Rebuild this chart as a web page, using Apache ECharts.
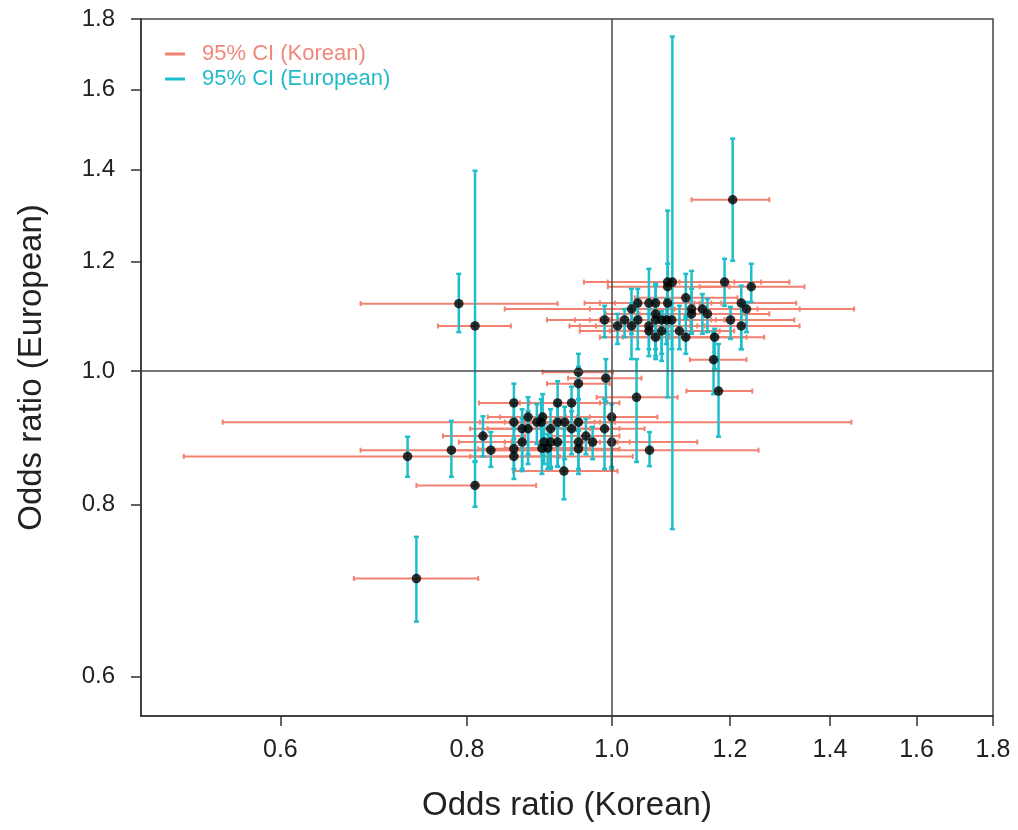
<!DOCTYPE html>
<html>
<head>
<meta charset="utf-8">
<script src="https://cdn.jsdelivr.net/npm/echarts@6/dist/echarts.min.js"></script>
<style>html,body{margin:0;padding:0;background:#fff}#chart{width:1018px;height:830px}</style>
</head>
<body>
<div id="chart"></div>
<script>
// Odds ratios (Korean) with 95% CI
const orKorean = [
  .950,.991,.950,1.039,1.179,.860,.920,.940,1.000,.879,.899,.860,.891,.897,.920,.930,.950,.871,.879,.910,.940,.989,.820,.961,.871,.901,.910,.920,.950,.971,1.000,.781,.830,.860,.898,.906,.950,1.060,.860,.730,.929,.810,.740,
  .790,.810,
  .989,1.009,1.020,1.031,1.031,1.041,1.041,1.059,1.070,1.059,1.059,1.070,1.070,1.080,1.088,1.097,1.080,1.070,1.090,1.090,1.098,1.090,1.110,1.121,1.131,1.131,1.121,1.150,1.159,1.172,1.190,1.201,1.221,1.221,1.231,1.240,1.170,1.205
];
const loKorean = [
  .899,.935,.905,.977,1.122,.815,.868,.881,.932,.826,.842,.816,.549,.848,.875,.881,.899,.804,.826,.861,.881,.930,.771,.912,.790,.848,.857,.868,.895,.916,.875,.679,.785,.814,.848,.856,.895,.897,.804,.517,.859,.740,.672,
  .679,.765,
  .905,.937,.945,.952,.967,.959,.967,.982,.982,.976,.952,.991,.982,.997,.997,1.012,.997,.982,1.005,.958,.994,.994,1.020,1.036,.848,1.044,1.017,1.060,1.068,1.093,1.110,1.110,1.128,1.141,1.145,1.145,1.128,1.131
];
const hiKorean = [
  1.002,1.047,.997,1.107,1.242,.992,.982,1.012,1.073,.948,.967,.912,1.447,.952,.974,.982,1.005,.945,.937,.967,1.012,1.052,.875,1.012,.967,.956,.974,.982,1.009,1.028,1.141,.898,.879,.917,.956,.967,1.012,1.254,.923,1.033,1.009,.890,.814,
  .920,.856,
  1.085,1.093,1.110,1.128,1.102,1.136,1.128,1.145,1.166,1.154,1.181,1.159,1.166,1.174,1.190,1.190,1.172,1.166,1.184,1.259,1.208,1.199,1.208,1.214,1.453,1.227,1.231,1.252,1.275,1.265,1.315,1.325,1.329,1.336,1.336,1.346,1.231,1.275
];
// Odds ratios (European) with 95% CI
const orEuropean = [
  .998,.988,.979,.957,.967,.948,.948,.948,.926,.926,.926,.918,.918,.918,.918,.918,.918,.908,.908,.908,.908,.908,.897,.897,.888,.888,.888,.888,.888,.888,.888,.876,.876,.878,.879,.879,.878,.876,.867,.867,.846,.826,.707,
  1.119,1.078,
  1.089,1.078,1.089,1.078,1.109,1.120,1.089,1.120,1.120,1.078,1.069,1.100,1.089,1.089,1.089,1.089,1.069,1.058,1.120,1.160,1.160,1.151,1.069,1.130,1.109,1.100,1.058,1.109,1.100,1.058,1.160,1.089,1.120,1.078,1.109,1.151,1.019,1.331
];
const loEuropean = [
  .954,.950,.923,.859,.896,.908,.853,.908,.852,.870,.870,.885,.885,.878,.885,.863,.885,.849,.856,.852,.870,.849,.867,.870,.846,.856,.849,.852,.849,.863,.849,.838,.852,.849,.842,.849,.842,.853,.835,.838,.807,.797,.658,
  1.067,.860,
  1.058,1.046,1.058,1.020,1.064,1.091,1.037,1.064,1.091,1.025,1.037,1.037,1.025,1.017,1.046,1.037,1.029,1.020,1.064,.957,.768,1.091,1.037,1.091,1.067,1.064,1.029,1.064,1.067,1.003,1.115,1.055,1.037,1.037,1.067,1.122,.962,1.202
];
const hiEuropean = [
  1.029,1.020,1.007,1.020,1.046,.979,.983,.974,.946,.957,.962,.946,.946,.954,.946,.942,.954,.938,.935,.938,.935,.954,.927,.923,.923,.915,.908,.911,.915,.911,.923,.920,.903,.908,.908,.900,.905,.903,.893,.896,.908,.859,.758,
  1.176,1.397,
  1.115,1.100,1.109,1.119,1.147,1.147,1.119,1.186,1.157,1.109,1.100,1.153,1.128,1.105,1.128,1.119,1.100,1.091,1.157,1.307,1.748,1.196,1.115,1.176,1.182,1.147,1.095,1.137,1.128,1.073,1.206,1.113,1.153,1.119,1.122,1.196,1.067,1.474
];
// Axis tick labels and ranges (log scale)
const xTicks = [0.6, 0.8, 1.0, 1.2, 1.4, 1.6, 1.8];
const yTicks = [0.6, 0.8, 1.0, 1.2, 1.4, 1.6, 1.8];
const xRange = [0.484, 1.8];
const yRange = [0.562, 1.8];
const seriesNames = ['95% CI (Korean)', '95% CI (European)'];

const RED = '#F28172', CYAN = '#1FBECB';
const RED_T = '#F0877A', CYAN_T = '#25BAC8';
const FONT = 'Liberation Sans, Arial, sans-serif';
const L = Math.log;

const hData = orKorean.map((v, i) => [L(loKorean[i]), L(hiKorean[i]), L(orEuropean[i])]);
const vData = orKorean.map((v, i) => [L(v), L(loEuropean[i]), L(hiEuropean[i])]);
const pData = orKorean.map((v, i) => [L(v), L(orEuropean[i])]);

function barStyle(color, width) {
  return { stroke: color, lineWidth: width };
}
function hBar(params, api) {
  const y = api.value(2), lo = api.value(0), hi = api.value(1);
  const a = api.coord([lo, y]), b = api.coord([hi, y]);
  const c = 2.5, st = barStyle(RED, 2);
  return { type: 'group', children: [
    { type: 'line', shape: { x1: a[0], y1: a[1], x2: b[0], y2: b[1] }, style: st },
    { type: 'line', shape: { x1: a[0], y1: a[1] - c, x2: a[0], y2: a[1] + c }, style: st },
    { type: 'line', shape: { x1: b[0], y1: b[1] - c, x2: b[0], y2: b[1] + c }, style: st }
  ]};
}
function vBar(params, api) {
  const x = api.value(0), lo = api.value(1), hi = api.value(2);
  const a = api.coord([x, lo]), b = api.coord([x, hi]);
  const c = 2.5, st = barStyle(CYAN, 2.5);
  return { type: 'group', children: [
    { type: 'line', shape: { x1: a[0], y1: a[1], x2: b[0], y2: b[1] }, style: st },
    { type: 'line', shape: { x1: a[0] - c, y1: a[1], x2: a[0] + c, y2: a[1] }, style: st },
    { type: 'line', shape: { x1: b[0] - c, y1: b[1], x2: b[0] + c, y2: b[1] }, style: st }
  ]};
}

const chart = echarts.init(document.getElementById('chart'), null, { renderer: 'canvas' });
chart.setOption({
  animation: false,
  backgroundColor: '#fff',
  grid: { left: 141, right: 25, top: 19, bottom: 114, show: true, borderColor: '#444', borderWidth: 1.5 },
  legend: {
    left: 160, top: 38, orient: 'vertical', itemGap: 3, itemWidth: 20, itemHeight: 3,
    selectedMode: false,
    textStyle: { fontSize: 22, fontFamily: FONT, padding: [0, 0, 0, 12] },
    data: [
      { name: seriesNames[0], icon: 'rect', itemStyle: { color: RED }, textStyle: { color: RED_T } },
      { name: seriesNames[1], icon: 'rect', itemStyle: { color: CYAN }, textStyle: { color: CYAN_T } }
    ]
  },
  xAxis: {
    type: 'value', min: L(xRange[0]), max: L(xRange[1]),
    axisLine: { show: true, onZero: false, lineStyle: { color: '#333', width: 1.5 } },
    axisTick: { show: true, customValues: xTicks.map(L), length: 10, lineStyle: { color: '#333', width: 1.5 } },
    axisLabel: { customValues: xTicks.map(L), formatter: v => Math.exp(v).toFixed(1), fontSize: 25, color: '#222', margin: 22, fontFamily: FONT },
    splitLine: { show: false },
    name: 'Odds ratio (Korean)', nameLocation: 'middle', nameGap: 73,
    nameTextStyle: { fontSize: 33, color: '#222', fontFamily: FONT }
  },
  yAxis: {
    type: 'value', min: L(yRange[0]), max: L(yRange[1]),
    axisLine: { show: true, onZero: false, lineStyle: { color: '#333', width: 1.5 } },
    axisTick: { show: true, customValues: yTicks.map(L), length: 10, lineStyle: { color: '#333', width: 1.5 } },
    axisLabel: { customValues: yTicks.map(L), formatter: v => Math.exp(v).toFixed(1), fontSize: 24, color: '#222', margin: 26, fontFamily: FONT },
    splitLine: { show: false },
    name: 'Odds ratio (European)', nameLocation: 'middle', nameGap: 93,
    nameTextStyle: { fontSize: 33, color: '#222', fontFamily: FONT }
  },
  series: [
    {
      type: 'line', data: [], z: 1, silent: true,
      markLine: {
        silent: true, symbol: 'none', label: { show: false },
        lineStyle: { color: '#4a4a4a', width: 1.5, type: 'solid' },
        data: [{ xAxis: 0 }, { yAxis: 0 }]
      }
    },
    {
      name: seriesNames[0], type: 'custom', z: 2, itemStyle: { color: RED },
      renderItem: hBar, encode: { x: [0, 1], y: 2 }, data: hData
    },
    {
      name: seriesNames[1], type: 'custom', z: 3, itemStyle: { color: CYAN },
      renderItem: vBar, encode: { x: 0, y: [1, 2] }, data: vData
    },
    {
      type: 'scatter', z: 4, symbol: 'circle', symbolSize: 9.5,
      itemStyle: { color: '#000' }, data: pData
    }
  ]
});
</script>
</body>
</html>
